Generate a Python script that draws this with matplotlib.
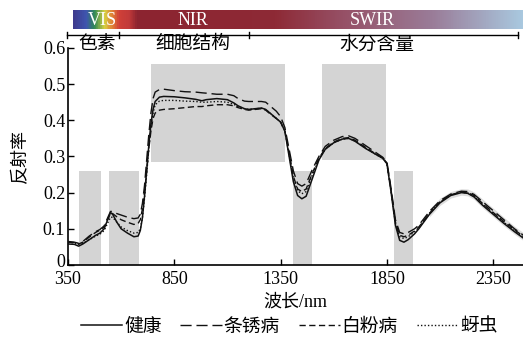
import numpy as np
import matplotlib
matplotlib.use('Agg')
import matplotlib.pyplot as plt
import matplotlib.transforms as mtransforms
from matplotlib.colors import LinearSegmentedColormap
from matplotlib.lines import Line2D

plt.rcParams['font.family'] = ['Liberation Serif', 'Noto Sans CJK SC']
plt.rcParams['font.size'] = 13

# wavelength (nm)
wl = [350, 380, 400, 420, 450, 480, 500, 520, 540, 550, 560, 580, 600, 630, 660, 680, 690,
      700, 710, 720, 730, 740, 750, 760, 780, 800, 850, 900, 950, 980, 1000, 1050, 1100,
      1130, 1150, 1180, 1200, 1230, 1260, 1280, 1300, 1330, 1350, 1370, 1390, 1410, 1430,
      1450, 1470, 1500, 1530, 1560, 1600, 1640, 1670, 1700, 1750, 1800, 1830, 1850, 1870,
      1890, 1910, 1930, 1950, 1980, 2000, 2050, 2100, 2150, 2200, 2230, 2260, 2300, 2350,
      2400, 2450, 2490]

healthy = [0.058, 0.057, 0.052, 0.058, 0.070, 0.082, 0.088, 0.100, 0.130, 0.145, 0.140, 0.118,
           0.100, 0.088, 0.078, 0.080, 0.095, 0.13, 0.19, 0.26, 0.33, 0.39, 0.43, 0.452, 0.464,
           0.466, 0.465, 0.462, 0.458, 0.454, 0.457, 0.460, 0.457, 0.448, 0.440, 0.432, 0.430,
           0.432, 0.434, 0.430, 0.42, 0.405, 0.395, 0.37, 0.30, 0.23, 0.192, 0.183, 0.19, 0.24,
           0.29, 0.32, 0.338, 0.348, 0.350, 0.342, 0.322, 0.305, 0.295, 0.28, 0.20, 0.11, 0.068,
           0.063, 0.070, 0.086, 0.100, 0.140, 0.172, 0.192, 0.200, 0.198, 0.188, 0.165, 0.140,
           0.115, 0.092, 0.075]

stripe_rust = [0.065, 0.063, 0.060, 0.065, 0.080, 0.092, 0.098, 0.108, 0.135, 0.148, 0.148, 0.142,
               0.138, 0.132, 0.128, 0.130, 0.14, 0.17, 0.22, 0.29, 0.36, 0.42, 0.46, 0.478, 0.485,
               0.486, 0.482, 0.479, 0.478, 0.476, 0.475, 0.472, 0.472, 0.468, 0.46, 0.453, 0.452,
               0.452, 0.452, 0.450, 0.44, 0.425, 0.41, 0.38, 0.32, 0.26, 0.225, 0.218, 0.225, 0.265,
               0.30, 0.328, 0.345, 0.355, 0.357, 0.35, 0.33, 0.31, 0.298, 0.285, 0.21, 0.125, 0.090,
               0.086, 0.090, 0.100, 0.110, 0.148, 0.178, 0.196, 0.204, 0.203, 0.195, 0.175, 0.150,
               0.125, 0.100, 0.083]

powdery = [0.063, 0.062, 0.058, 0.063, 0.077, 0.090, 0.096, 0.105, 0.130, 0.143, 0.142, 0.133,
           0.125, 0.118, 0.112, 0.115, 0.125, 0.155, 0.20, 0.26, 0.32, 0.37, 0.405, 0.42, 0.428,
           0.430, 0.432, 0.435, 0.438, 0.438, 0.440, 0.443, 0.443, 0.440, 0.435, 0.430, 0.428,
           0.430, 0.432, 0.428, 0.418, 0.405, 0.395, 0.37, 0.31, 0.245, 0.21, 0.203, 0.21, 0.255,
           0.295, 0.322, 0.34, 0.35, 0.352, 0.345, 0.325, 0.306, 0.296, 0.282, 0.205, 0.118, 0.082,
           0.078, 0.082, 0.094, 0.105, 0.143, 0.175, 0.194, 0.202, 0.200, 0.192, 0.170, 0.145,
           0.120, 0.097, 0.080]

aphid = [0.062, 0.061, 0.057, 0.060, 0.070, 0.080, 0.085, 0.095, 0.120, 0.132, 0.132, 0.118,
         0.105, 0.095, 0.088, 0.090, 0.10, 0.13, 0.185, 0.25, 0.32, 0.38, 0.42, 0.443, 0.453,
         0.455, 0.455, 0.453, 0.452, 0.450, 0.450, 0.452, 0.450, 0.444, 0.438, 0.432, 0.430,
         0.432, 0.433, 0.429, 0.42, 0.405, 0.395, 0.37, 0.305, 0.24, 0.205, 0.197, 0.203, 0.25,
         0.292, 0.32, 0.338, 0.348, 0.35, 0.343, 0.323, 0.305, 0.295, 0.28, 0.2, 0.115, 0.078,
         0.073, 0.078, 0.092, 0.103, 0.142, 0.174, 0.193, 0.201, 0.199, 0.19, 0.168, 0.143,
         0.118, 0.095, 0.078]

labels = ['健康', '条锈病', '白粉病', '蚜虫']

# sensitive bands (gray boxes)
span_lo = [403, 543, 740, 1407, 1545, 1883]
span_hi = [505, 685, 1370, 1496, 1846, 1973]
span_bottom = [0, 0, 0.285, 0, 0.29, 0]
span_top = [0.26, 0.26, 0.555, 0.26, 0.555, 0.26]

# region brackets above the plot
bracket_edges = [345, 590, 1200, 2465]
region_names = ['色素', '细胞结构', '水分含量']
region_pos = [486, 938, 1803]

fig = plt.figure(figsize=(5.23, 3.45), dpi=100)
ax = fig.add_axes([0.130, 0.232, 0.870, 0.629])

ax.bar(span_lo, np.array(span_top) - np.array(span_bottom),
       width=np.array(span_hi) - np.array(span_lo), bottom=span_bottom,
       align='edge', color='#d4d4d4', lw=0, zorder=1)

wl_a = np.array(wl)
allc = np.array([healthy, stripe_rust, powdery, aphid])
m = wl_a >= 2050
ax.fill_between(wl_a[m], allc.min(0)[m] - 0.007, allc.max(0)[m] + 0.007,
                color='#dddddd', lw=0, zorder=1.5)

ax.plot(wl, healthy, color='#111111', lw=1.1, ls='-', zorder=3)
ax.plot(wl, stripe_rust, color='#111111', lw=1.0, ls=(0, (8, 3.5)), zorder=3)
ax.plot(wl, powdery, color='#111111', lw=1.0, ls=(0, (4.5, 2.5)), zorder=3)
ax.plot(wl, aphid, color='#111111', lw=1.0, ls=(0, (1, 1.5)), zorder=3)

ax.set_xlim(350, 2490)
ax.set_ylim(0, 0.6)
ax.set_xticks([350, 850, 1350, 1850, 2350])
ax.set_yticks([0, 0.1, 0.2, 0.3, 0.4, 0.5, 0.6])
ax.set_yticklabels(['0', '0.1', '0.2', '0.3', '0.4', '0.5', '0.6'])
ax.tick_params(direction='in', length=4, width=1)
ax.tick_params(axis='y', pad=2)
ax.tick_params(axis='x', pad=4)
ax.spines['top'].set_visible(False)
ax.spines['right'].set_visible(False)
ax.spines['left'].set_linewidth(1.2)
ax.spines['bottom'].set_linewidth(1.2)
ax.set_xlabel('波长/nm', labelpad=4)
ax.set_ylabel('反射率', labelpad=10)

# lift the "0" label a little so it clears "350"
zero_lbl = ax.get_yticklabels()[0]
zero_lbl.set_transform(zero_lbl.get_transform() +
                       mtransforms.ScaledTranslation(0, 3 / 72, fig.dpi_scale_trans))

# brackets
trans = ax.get_xaxis_transform()
ax.plot([bracket_edges[0], bracket_edges[-1]], [1.06, 1.06], color='black', lw=1,
        transform=trans, clip_on=False)
for e in bracket_edges:
    ax.plot([e, e], [1.045, 1.075], color='black', lw=1, transform=trans, clip_on=False)
for name, p in zip(region_names, region_pos):
    ax.text(p, 1.015, name, transform=trans, ha='center', va='center', fontsize=13.5)

# spectrum bar
bar_ax = fig.add_axes([73 / 523, 1 - 29 / 345, 450 / 523, 19 / 345])
cmap = LinearSegmentedColormap.from_list('spec', [
    (0.0, '#3d3b8e'), (0.027, '#3f55b0'), (0.045, '#2f8a55'), (0.067, '#d8d040'),
    (0.087, '#e07a35'), (0.10, '#d04038'), (0.122, '#c23a3a'), (0.14, '#8c2430'),
    (0.45, '#8e2a36'), (0.6, '#965066'), (0.8, '#9a7c98'), (1.0, '#a9c8df')])
bar_ax.imshow(np.linspace(0, 1, 500).reshape(1, -1), aspect='auto', cmap=cmap,
              extent=[0, 1, 0, 1])
bar_ax.set_axis_off()
for t, xp in zip(['VIS', 'NIR', 'SWIR'], [102, 193, 372]):
    bar_ax.text((xp - 73) / 450, 0.45, t, color='white', ha='center', va='center',
                fontsize=13)

handles = [Line2D([], [], color='#111111', lw=1.1, ls='-'),
           Line2D([], [], color='#111111', lw=1.0, ls=(0, (8, 3.5))),
           Line2D([], [], color='#111111', lw=1.0, ls=(0, (4.5, 2.5))),
           Line2D([], [], color='#111111', lw=1.0, ls=(0, (1, 1.5)))]
fig.legend(handles, labels, loc='center', bbox_to_anchor=(0.553, 0.052), ncol=4,
           frameon=False, handlelength=2.2, handletextpad=0.1, columnspacing=1.0,
           fontsize=13.5, borderaxespad=0)

fig.savefig('out.png', dpi=100)
